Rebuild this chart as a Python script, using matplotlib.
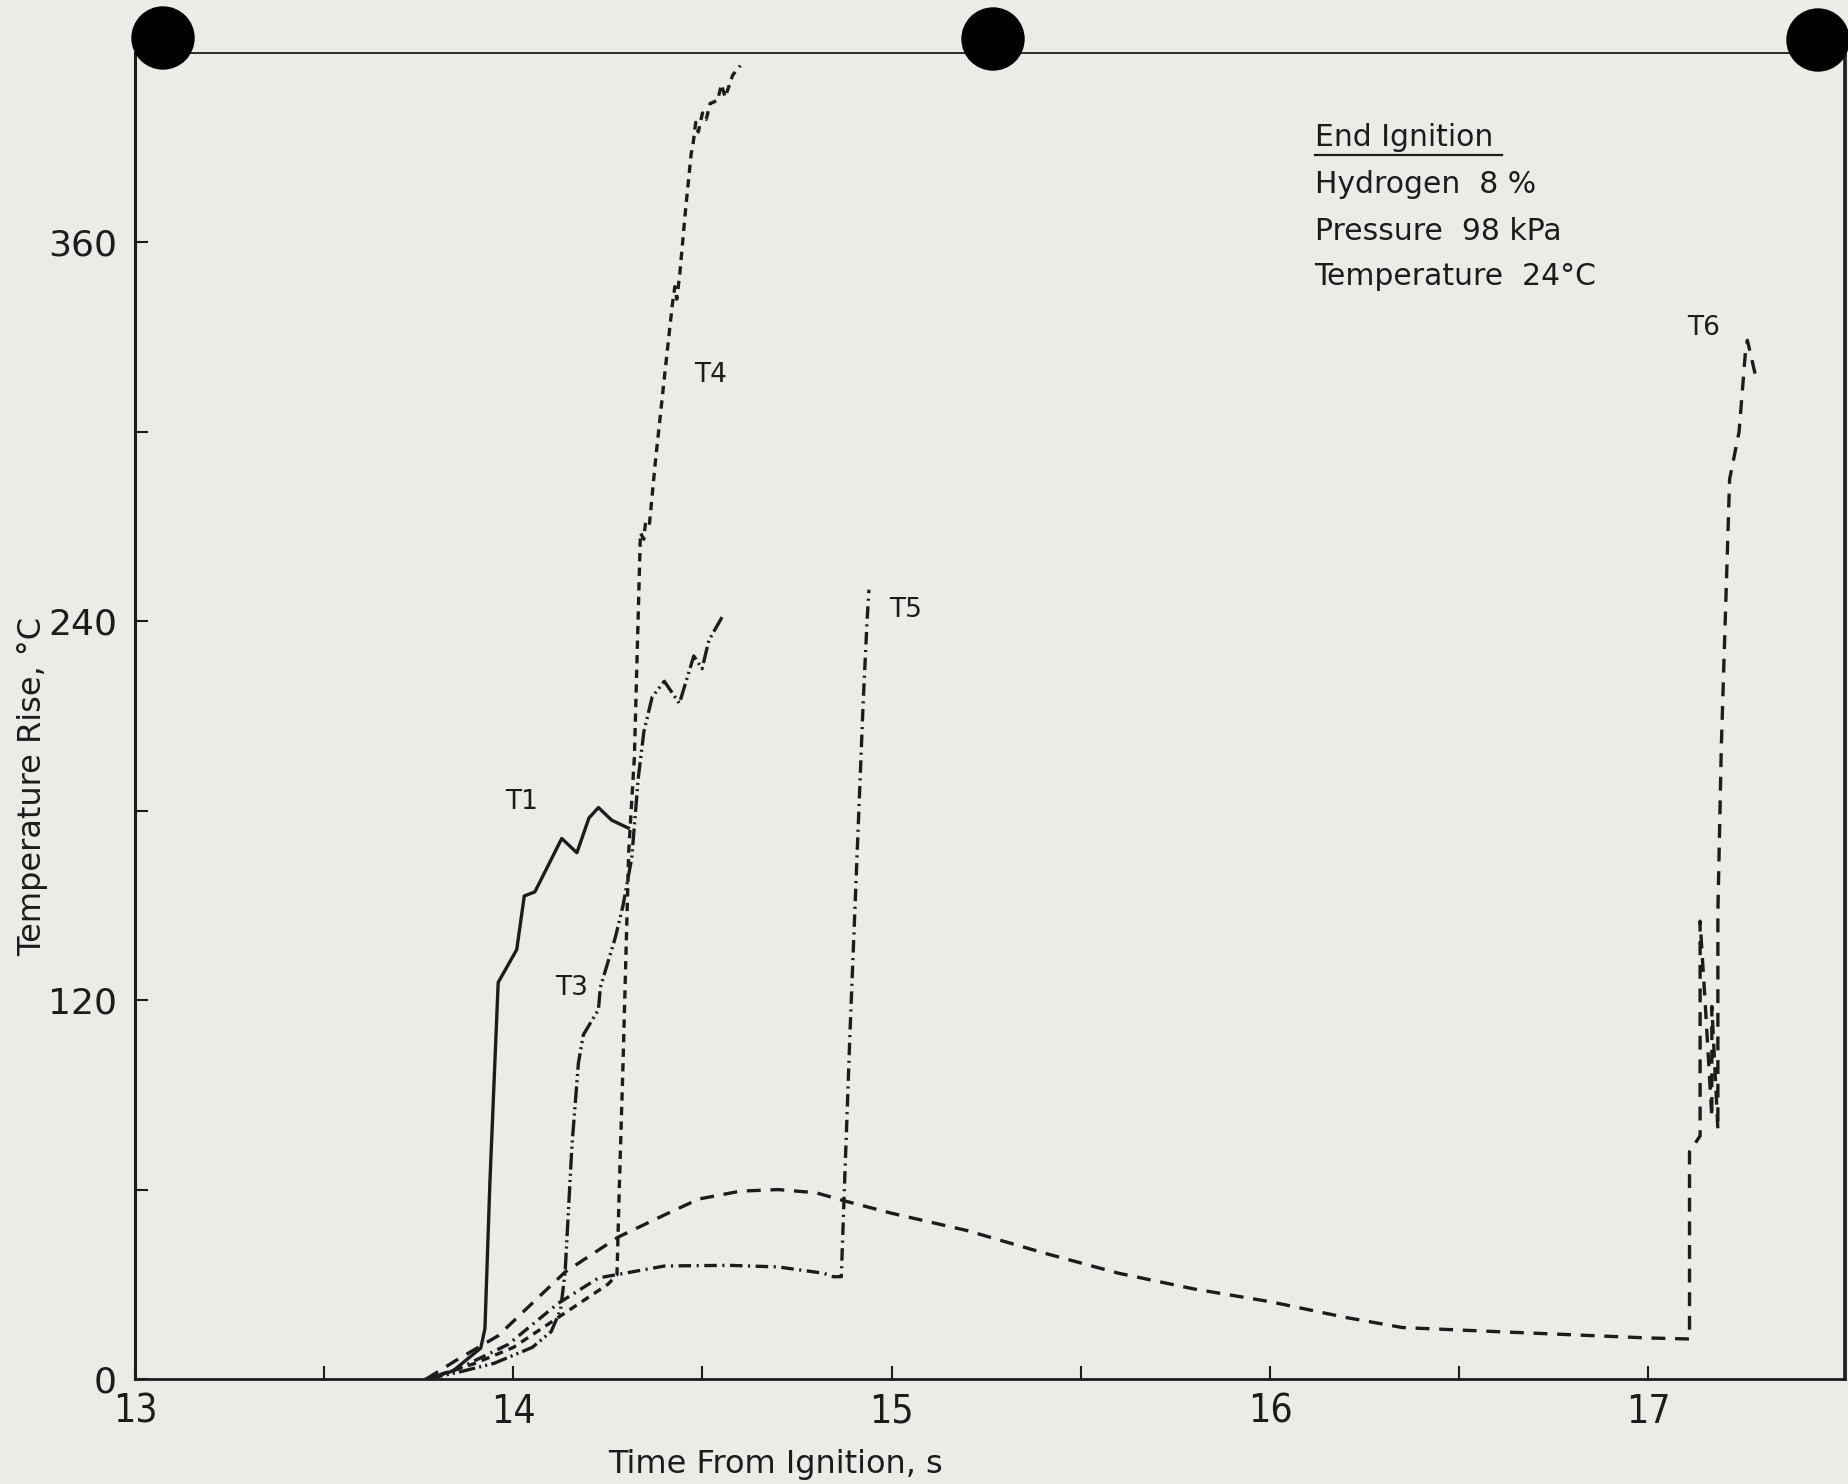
import matplotlib
matplotlib.use('Agg')
import matplotlib.pyplot as plt
from matplotlib.patches import Ellipse
from matplotlib.lines import Line2D
import numpy as np

# %%
# traces (time in s, temperature rise in degC)

t1_time = [13.77, 13.84, 13.914, 13.925, 13.938, 13.96, 14.009, 14.029, 14.057, 14.128,
           14.168, 14.20, 14.225, 14.26, 14.304]
t1_temp = [0, 2.5, 9.8, 16, 62, 125.6, 136, 153, 154.3, 171.2,
           166.7, 177.7, 181, 177, 174.5]

t3_time = [13.77, 13.85, 13.95, 14.05, 14.10, 14.125, 14.137, 14.155, 14.172, 14.185,
           14.225, 14.23, 14.27, 14.29, 14.313, 14.33, 14.345, 14.367, 14.399, 14.439,
           14.477, 14.499, 14.517, 14.555]
t3_temp = [0, 2, 5, 10, 15, 22, 34, 74, 100, 109,
           117, 124, 140, 150, 165, 190, 205, 216, 221, 214,
           229, 225, 234, 242]

t4_time = [13.77, 13.90, 14.00, 14.10, 14.20, 14.25, 14.274, 14.28, 14.29, 14.305,
           14.32, 14.336, 14.345, 14.35, 14.36, 14.375, 14.40, 14.42, 14.427, 14.432,
           14.44, 14.455, 14.47, 14.475, 14.482, 14.489, 14.50, 14.51, 14.52, 14.54,
           14.55, 14.56, 14.58, 14.60]
t4_temp = [0, 5, 10, 18, 26, 30, 33, 60, 100, 167,
           197, 268, 266, 272, 271, 290, 318, 340, 346, 342,
           350, 370, 388, 391, 398, 395, 401, 399, 404, 405,
           410, 406, 413, 416]

t5_time = [13.77, 13.85, 13.987, 14.119, 14.225, 14.40, 14.57, 14.70, 14.82, 14.846,
           14.867, 14.875, 14.89, 14.91, 14.925, 14.935, 14.94]
t5_temp = [0, 3, 11, 24, 32, 35.8, 36, 35.5, 33.5, 32.4,
           32.4, 60, 110, 170, 215, 240, 250]

t6_time = [13.77, 13.85, 13.96, 14.05, 14.137, 14.278, 14.40, 14.49, 14.60, 14.70,
           14.80, 14.876, 15.0, 15.2, 15.4, 15.6, 15.8, 16.0, 16.2, 16.35,
           16.6, 16.8, 17.0, 17.10, 17.109, 17.109, 17.137, 17.137, 17.15, 17.168,
           17.168, 17.184, 17.184, 17.193, 17.215, 17.24, 17.258, 17.262, 17.287]
t6_temp = [0, 6, 13.7, 24, 33.9, 45, 52, 57, 59.5, 60,
           59, 56.4, 52.5, 47, 40, 33.5, 28.5, 24.5, 19.5, 16.3,
           15, 14, 13, 12.7, 12.7, 72, 77, 145, 120, 83,
           118, 79, 148, 200, 285, 300, 327, 329, 316]

# label name, time, temp
trace_labels = ['T1', 'T3', 'T4', 'T5', 'T6']
label_time = [14.023, 14.155, 14.522, 15.037, 17.146]
label_temp = [182.7, 123.8, 318, 243.5, 333]

info_lines = ['End Ignition', 'Hydrogen  8 %', 'Pressure  98 kPa', 'Temperature  24\u00b0C']
info_time = 16.118
info_temp = [393.2, 378.5, 363.5, 349.2]

x_major = [13, 14, 15, 16, 17]
x_minor = [13.5, 14.5, 15.5, 16.5]
y_major = [0, 120, 240, 360]
y_minor = [60, 180, 300]

# punch holes of the scanned sheet, pixel centres
hole_px = [(163, 38), (993, 39), (1818, 40)]

# %%
plt.rcParams['lines.scale_dashes'] = False
paper = '#ebebe8'
ink = '#1c1c1c'
W, H = 1849, 1484

fig = plt.figure(figsize=(W/100, H/100), dpi=100, facecolor=paper)
ax = fig.add_axes([135/W, 1-1379/H, 1710/W, 1326/H])
ax.set_facecolor(paper)

lw = 2.4
ax.plot(t1_time, t1_temp, color=ink, lw=lw, ls='-')
ax.plot(t3_time, t3_temp, color=ink, lw=lw, ls=(0, (12, 3, 1.5, 3, 1.5, 3)))
ax.plot(t4_time, t4_temp, color=ink, lw=lw, ls=(0, (6, 4.5)))
ax.plot(t5_time, t5_temp, color=ink, lw=lw, ls=(0, (9, 4, 1.5, 4)))
ax.plot(t6_time, t6_temp, color=ink, lw=lw, ls=(0, (10, 7)))

for name, tx, ty in zip(trace_labels, label_time, label_temp):
    ax.text(tx, ty, name, fontsize=19, color=ink, ha='center', va='center')

info_txt = []
for line, ty in zip(info_lines, info_temp):
    info_txt.append(ax.text(info_time, ty, line, fontsize=21.5, color=ink,
                            ha='left', va='center'))

ax.set_xlim(13, 17.52)
ax.set_ylim(0, 420)
ax.set_xticks(x_major)
ax.set_xticks(x_minor, minor=True)
ax.set_yticks(y_major)
ax.set_yticks(y_minor, minor=True)
ax.tick_params(which='both', direction='in', length=9.5, width=1.5, color=ink)
ax.tick_params(axis='x', which='major', pad=10)
ax.tick_params(axis='y', which='major', pad=13)
for lab in ax.get_xticklabels():
    lab.set_fontstretch('condensed')
    lab.set_fontsize(28)
    lab.set_color(ink)
for lab in ax.get_yticklabels():
    lab.set_fontsize(26)
    lab.set_color(ink)

# axis titles placed where they sit on the scan (pixels from top-left)
fig.text(776/W, 1-1473/H, 'Time From Ignition, s', fontsize=23, color=ink,
         ha='center', va='baseline')
fig.text(33/W, 1-787/H, 'Temperature Rise, \u00b0C', fontsize=23, color=ink,
         rotation=90, ha='center', va='center')

ax.spines['left'].set_linewidth(2.2)
ax.spines['bottom'].set_linewidth(2.0)
ax.spines['top'].set_linewidth(1.3)
ax.spines['right'].set_linewidth(2.6)
for s in ax.spines.values():
    s.set_color(ink)

for hx, hy in hole_px:
    fig.add_artist(Ellipse((hx/W, 1-hy/H), 62/W, 62/H, transform=fig.transFigure,
                           color='black', zorder=10))

# underline the heading of the info block
fig.canvas.draw()
bb = info_txt[0].get_window_extent().transformed(fig.transFigure.inverted())
fig.add_artist(Line2D([bb.x0, bb.x1 + 0.005], [bb.y0 - 0.002, bb.y0 - 0.002],
                      transform=fig.transFigure, color=ink, lw=1.6))

plt.savefig('out.png', dpi=100, facecolor=paper)
